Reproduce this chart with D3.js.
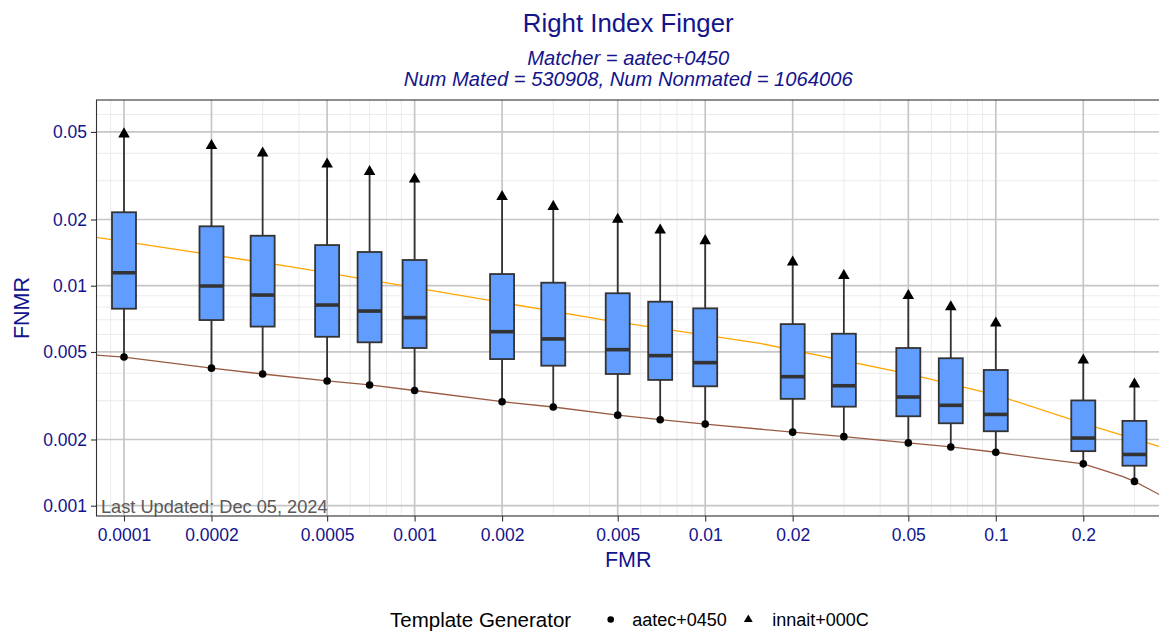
<!DOCTYPE html>
<html>
<head>
<meta charset="utf-8">
<script src="https://cdn.jsdelivr.net/npm/d3@7"></script>
<style>
  html, body { margin: 0; padding: 0; background: #fff; }
  svg { display: block; font-family: "Liberation Sans", Arial, sans-serif; }
</style>
</head>
<body>
<svg id="chart" width="1159" height="635"></svg>
<script>
// ---------------- DATA ----------------
const fmrCategories = [0.0001, 0.0002, 0.0003, 0.0005, 0.0007, 0.001, 0.002, 0.003, 0.005, 0.007, 0.01, 0.02, 0.03, 0.05, 0.07, 0.1, 0.2, 0.3];
// aatec+0450 FNMR (circles, lower whisker end)
const aatecValues = [0.00474, 0.00422, 0.00397, 0.00369, 0.00354, 0.00334, 0.00297, 0.00281, 0.00258, 0.00246, 0.00235, 0.00216, 0.00206, 0.00193, 0.00185, 0.00175, 0.00155, 0.00129];
// innait+000C FNMR (triangles, upper whisker end)
const innaitValues = [0.0489, 0.0433, 0.0400, 0.0357, 0.0330, 0.0305, 0.0254, 0.0229, 0.0200, 0.0179, 0.0160, 0.0128, 0.0111, 0.0090, 0.0080, 0.00675, 0.00459, 0.00357];
// box statistics
const boxQ1     = [0.00786, 0.00698, 0.00652, 0.00586, 0.00553, 0.00521, 0.00464, 0.00433, 0.00397, 0.00373, 0.00349, 0.00306, 0.00282, 0.00255, 0.00237, 0.00218, 0.00177, 0.00152];
const boxMedian = [0.01146, 0.00997, 0.00907, 0.00817, 0.00767, 0.00716, 0.00618, 0.00573, 0.00512, 0.00481, 0.00447, 0.00386, 0.00351, 0.00312, 0.00286, 0.00260, 0.00203, 0.00171];
const boxQ3     = [0.02157, 0.01862, 0.01687, 0.01530, 0.01423, 0.01309, 0.01130, 0.01032, 0.00924, 0.00846, 0.00789, 0.00669, 0.00605, 0.00521, 0.00468, 0.00414, 0.00301, 0.00243];
// aatec+0450 DET curve (brown)
const brownCurveFMR  = [0.0000804, 0.0001, 0.0002, 0.0003, 0.0005, 0.0007, 0.001, 0.002, 0.003, 0.005, 0.007, 0.01, 0.02, 0.03, 0.05, 0.07, 0.1, 0.142, 0.2, 0.234, 0.274, 0.3, 0.3673];
const brownCurveFNMR = [0.00484, 0.00474, 0.00422, 0.00397, 0.00369, 0.00354, 0.00334, 0.00297, 0.00281, 0.00258, 0.00246, 0.00235, 0.00216, 0.00206, 0.00193, 0.00185, 0.00175, 0.00164, 0.00155, 0.00145, 0.001355, 0.00129, 0.00112];
// orange reference curve
const orangeCurveFMR  = [0.0000804, 0.000373, 0.000891, 0.00452, 0.01544, 0.05, 0.1, 0.2, 0.3644, 0.3673];
const orangeCurveFNMR = [0.0166, 0.0122, 0.01007, 0.00698, 0.00547, 0.00397, 0.00319, 0.00237, 0.00186, 0.00185];
// axes
const xTickValues = [0.0001, 0.0002, 0.0005, 0.001, 0.002, 0.005, 0.01, 0.02, 0.05, 0.1, 0.2];
const xTickLabels = ["0.0001", "0.0002", "0.0005", "0.001", "0.002", "0.005", "0.01", "0.02", "0.05", "0.1", "0.2"];
const yTickValues = [0.001, 0.002, 0.005, 0.01, 0.02, 0.05];
const yTickLabels = ["0.001", "0.002", "0.005", "0.01", "0.02", "0.05"];
const xDomain = [0.00008042, 0.3673];
const yDomain = [0.000898, 0.06984];
const legendLabels = ["aatec+0450", "innait+000C"];

// ---------------- LAYOUT ----------------
const W = 1159, H = 635;
const P = { left: 96.5, right: 1160, top: 100, bottom: 516 };
const navy = "#14148c";
const svg = d3.select("#chart");

const x = d3.scaleLog().domain(xDomain).range([P.left, P.right]);
const y = d3.scaleLog().domain(yDomain).range([P.bottom, P.top]);

svg.append("defs").append("clipPath").attr("id", "clip")
  .append("rect").attr("x", P.left).attr("y", P.top)
  .attr("width", P.right - P.left).attr("height", P.bottom - P.top);

// minor grid: multiples 1..9 of each decade that are not major
function minorTicks(domain, majors) {
  const out = [];
  for (let e = -6; e <= 1; e++) {
    for (let m = 1; m <= 9; m++) {
      const v = m * Math.pow(10, e);
      if (v >= domain[0] && v <= domain[1] && !majors.some(t => Math.abs(t - v) / v < 1e-6)) out.push(v);
    }
  }
  return out;
}
const grid = svg.append("g").attr("clip-path", "url(#clip)");
grid.selectAll(".xminor").data(minorTicks(xDomain, xTickValues)).enter().append("line")
  .attr("x1", d => x(d)).attr("x2", d => x(d)).attr("y1", P.top).attr("y2", P.bottom)
  .attr("stroke", "#ebebeb").attr("stroke-width", 1);
grid.selectAll(".yminor").data(minorTicks(yDomain, yTickValues)).enter().append("line")
  .attr("y1", d => y(d)).attr("y2", d => y(d)).attr("x1", P.left).attr("x2", P.right)
  .attr("stroke", "#ebebeb").attr("stroke-width", 1);
grid.selectAll(".xmajor").data(xTickValues).enter().append("line")
  .attr("x1", d => x(d)).attr("x2", d => x(d)).attr("y1", P.top).attr("y2", P.bottom)
  .attr("stroke", "#c6c6c6").attr("stroke-width", 1.7);
grid.selectAll(".ymajor").data(yTickValues).enter().append("line")
  .attr("y1", d => y(d)).attr("y2", d => y(d)).attr("x1", P.left).attr("x2", P.right)
  .attr("stroke", "#c6c6c6").attr("stroke-width", 1.7);

// curves
const plot = svg.append("g").attr("clip-path", "url(#clip)");
const line = d3.line().x(d => x(d[0])).y(d => y(d[1]));
plot.append("path").datum(orangeCurveFMR.map((f, i) => [f, orangeCurveFNMR[i]]))
  .attr("d", line).attr("fill", "none").attr("stroke", "#FFA500").attr("stroke-width", 1.3);
plot.append("path").datum(brownCurveFMR.map((f, i) => [f, brownCurveFNMR[i]]))
  .attr("d", line).attr("fill", "none").attr("stroke", "#9A5B43").attr("stroke-width", 1.3);

// boxes
const boxes = fmrCategories.map((f, i) => ({
  f, lo: aatecValues[i], hi: innaitValues[i], q1: boxQ1[i], med: boxMedian[i], q3: boxQ3[i]
}));
const bw = 24;
const stroke = "#333333";
const bg = plot.selectAll(".box").data(boxes).enter().append("g");
bg.append("line").attr("x1", d => x(d.f)).attr("x2", d => x(d.f))
  .attr("y1", d => y(d.q3)).attr("y2", d => y(d.hi)).attr("stroke", stroke).attr("stroke-width", 1.8);
bg.append("line").attr("x1", d => x(d.f)).attr("x2", d => x(d.f))
  .attr("y1", d => y(d.q1)).attr("y2", d => y(d.lo)).attr("stroke", stroke).attr("stroke-width", 1.8);
bg.append("rect").attr("x", d => x(d.f) - bw / 2).attr("width", bw)
  .attr("y", d => y(d.q3)).attr("height", d => y(d.q1) - y(d.q3))
  .attr("fill", "#619CFF").attr("stroke", stroke).attr("stroke-width", 1.8);
bg.append("line").attr("x1", d => x(d.f) - bw / 2).attr("x2", d => x(d.f) + bw / 2)
  .attr("y1", d => y(d.med)).attr("y2", d => y(d.med)).attr("stroke", stroke).attr("stroke-width", 3.6);

// points
plot.selectAll(".pt").data(boxes).enter().append("circle")
  .attr("cx", d => x(d.f)).attr("cy", d => y(d.lo)).attr("r", 3.8).attr("fill", "#000");
const tri = d3.symbol().type(d3.symbolTriangle).size(58);
plot.selectAll(".tri").data(boxes).enter().append("path")
  .attr("d", tri).attr("transform", d => `translate(${x(d.f)},${y(d.hi)})`).attr("fill", "#000");

// panel border
svg.append("rect").attr("x", P.left).attr("y", P.top)
  .attr("width", P.right - P.left).attr("height", P.bottom - P.top)
  .attr("fill", "none").attr("stroke", "#333333").attr("stroke-width", 1.1);

// axes
const xAxis = svg.append("g").attr("transform", `translate(0,${P.bottom})`)
  .call(d3.axisBottom(x).tickValues(xTickValues).tickFormat((d, i) => xTickLabels[i]).tickSize(5.5).tickPadding(7));
const yAxis = svg.append("g").attr("transform", `translate(${P.left},0)`)
  .call(d3.axisLeft(y).tickValues(yTickValues).tickFormat((d, i) => yTickLabels[i]).tickSize(5.5).tickPadding(4));
[xAxis, yAxis].forEach(a => {
  a.select(".domain").remove();
  a.selectAll(".tick line").attr("stroke", "#333333").attr("stroke-width", 1.1);
  a.selectAll(".tick text").attr("fill", navy).style("font-size", "17.5px")
    .style("font-family", "'Liberation Sans', Arial, sans-serif");
});

// caption inside panel
svg.append("text").attr("x", 101).attr("y", 513.3).attr("fill", "#595959")
  .style("font-size", "18.2px").text("Last Updated: Dec 05, 2024");

// titles
const cx = (P.left + P.right) / 2;
svg.append("text").attr("x", cx).attr("y", 31.7).attr("text-anchor", "middle").attr("fill", navy)
  .style("font-size", "25.8px").text("Right Index Finger");
svg.append("text").attr("x", cx).attr("y", 65).attr("text-anchor", "middle").attr("fill", navy)
  .style("font-size", "20.2px").style("font-style", "italic").text("Matcher = aatec+0450");
svg.append("text").attr("x", cx).attr("y", 85.5).attr("text-anchor", "middle").attr("fill", navy)
  .style("font-size", "20.2px").style("font-style", "italic").text("Num Mated = 530908, Num Nonmated = 1064006");
svg.append("text").attr("x", cx).attr("y", 566.5).attr("text-anchor", "middle").attr("fill", navy)
  .style("font-size", "21.5px").text("FMR");
svg.append("text").attr("transform", `translate(28.5,${(P.top + P.bottom) / 2}) rotate(-90)`)
  .attr("text-anchor", "middle").attr("fill", navy).style("font-size", "21.5px").text("FNMR");

// legend
const lg = svg.append("g");
lg.append("text").attr("x", 390).attr("y", 626.5).attr("fill", "#000").style("font-size", "20.5px").text("Template Generator");
lg.append("circle").attr("cx", 610.7).attr("cy", 619.5).attr("r", 3.3).attr("fill", "#000");
lg.append("text").attr("x", 632.3).attr("y", 626).attr("fill", "#000").style("font-size", "18px").text(legendLabels[0]);
lg.append("path").attr("d", d3.symbol().type(d3.symbolTriangle).size(34)())
  .attr("transform", "translate(748.3,619.5)").attr("fill", "#000");
lg.append("text").attr("x", 772.3).attr("y", 626).attr("fill", "#000").style("font-size", "18px").text(legendLabels[1]);
</script>
</body>
</html>
